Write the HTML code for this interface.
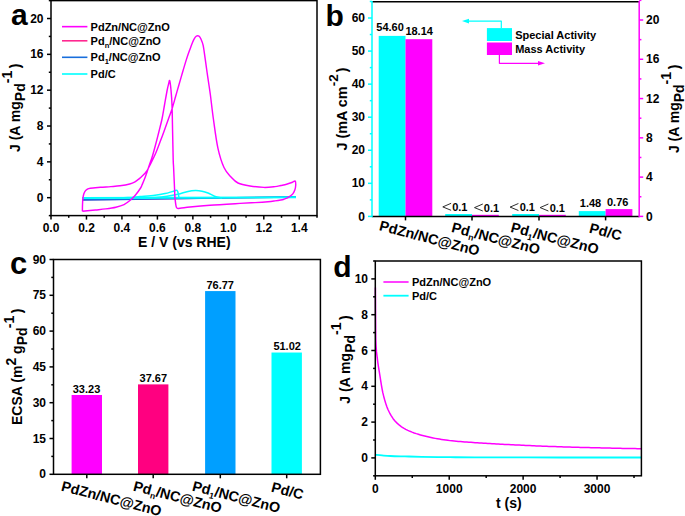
<!DOCTYPE html>
<html><head><meta charset="utf-8"><style>
html,body{margin:0;padding:0;background:#fff;overflow:hidden;}
svg{display:block;}
text{font-family:"Liberation Sans", sans-serif;font-weight:bold;}
</style></head><body>
<svg width="685" height="516" viewBox="0 0 685 516" style="font-family:'Liberation Sans', sans-serif;font-weight:bold">
<rect width="685" height="516" fill="#fff"/>
<path d="M82.00,199.80 L120.00,199.40 L235.00,197.80 L296.00,197.00" fill="none" stroke="#FF2890" stroke-width="1.4" stroke-linejoin="round" stroke-linecap="butt"/>
<path d="M82.00,199.90 L120.00,199.50 L235.00,197.80 L296.00,196.90" fill="none" stroke="#186EDC" stroke-width="1.6" stroke-linejoin="round" stroke-linecap="butt"/>
<path d="M82.00,197.90 L296.00,197.30" fill="none" stroke="#00FFFF" stroke-width="2.0" stroke-linejoin="round" stroke-linecap="butt"/>
<path d="M140.00,198.10 C142.50,197.98 150.50,197.72 155.00,197.40 C159.50,197.08 163.17,196.73 167.00,196.20 C170.83,195.67 174.50,195.00 178.00,194.20 C181.50,193.40 185.08,192.00 188.00,191.40 C190.92,190.80 193.17,190.63 195.50,190.60 C197.83,190.57 199.92,190.80 202.00,191.20 C204.08,191.60 205.92,192.17 208.00,193.00 C210.08,193.83 212.17,195.37 214.50,196.20 C216.83,197.03 220.75,197.70 222.00,198.00" fill="none" stroke="#00FFFF" stroke-width="1.5" stroke-linejoin="round" stroke-linecap="butt"/>
<path d="M115.00,198.10 C117.17,198.02 123.83,197.85 128.00,197.60 C132.17,197.35 135.50,196.98 140.00,196.60 C144.50,196.22 150.83,195.80 155.00,195.30 C159.17,194.80 162.17,194.22 165.00,193.60 C167.83,192.98 170.12,192.15 172.00,191.60 C173.88,191.05 175.37,190.35 176.30,190.30 C177.23,190.25 177.25,190.65 177.60,191.30 C177.95,191.95 178.17,193.08 178.40,194.20 C178.63,195.32 178.90,197.37 179.00,198.00" fill="none" stroke="#00FFFF" stroke-width="1.5" stroke-linejoin="round" stroke-linecap="butt"/>
<path d="M82.40,211.30 C82.42,210.25 82.42,207.13 82.50,205.00 C82.58,202.87 82.70,200.30 82.90,198.50 C83.10,196.70 83.35,195.40 83.70,194.20 C84.05,193.00 84.45,192.10 85.00,191.30 C85.55,190.50 86.12,189.92 87.00,189.40 C87.88,188.88 88.05,188.55 90.30,188.20 C92.55,187.85 97.08,187.57 100.50,187.30 C103.92,187.03 107.55,186.85 110.80,186.60 C114.05,186.35 116.85,186.23 120.00,185.80 C123.15,185.37 127.20,184.67 129.70,184.00 C132.20,183.33 133.38,182.70 135.00,181.80 C136.62,180.90 138.07,179.68 139.40,178.60 C140.73,177.52 141.98,176.30 143.00,175.30 C144.02,174.30 144.80,173.43 145.50,172.60 C146.20,171.77 146.23,171.98 147.20,170.30 C148.17,168.62 149.83,165.47 151.30,162.50 C152.77,159.53 154.52,155.98 156.00,152.50 C157.48,149.02 158.77,145.38 160.20,141.60 C161.63,137.82 163.22,133.60 164.60,129.80 C165.98,126.00 167.27,122.27 168.50,118.80 C169.73,115.33 170.82,112.72 172.00,109.00 C173.18,105.28 174.50,100.33 175.60,96.50 C176.70,92.67 177.45,90.00 178.60,86.00 C179.75,82.00 181.17,77.02 182.50,72.50 C183.83,67.98 185.37,62.75 186.60,58.90 C187.83,55.05 188.92,52.13 189.90,49.40 C190.88,46.67 191.73,44.33 192.50,42.50 C193.27,40.67 193.88,39.43 194.50,38.40 C195.12,37.37 195.68,36.75 196.20,36.30 C196.72,35.85 197.10,35.70 197.60,35.70 C198.10,35.70 198.67,35.80 199.20,36.30 C199.73,36.80 200.15,37.22 200.80,38.70 C201.45,40.18 202.37,41.83 203.10,45.20 C203.83,48.57 204.53,54.35 205.20,58.90 C205.87,63.45 206.45,67.98 207.10,72.50 C207.75,77.02 208.55,82.25 209.10,86.00 C209.65,89.75 209.68,89.50 210.40,95.00 C211.12,100.50 212.15,110.15 213.40,119.00 C214.65,127.85 216.13,140.02 217.90,148.10 C219.67,156.18 221.82,162.68 224.00,167.50 C226.18,172.32 228.67,174.42 231.00,177.00 C233.33,179.58 234.83,181.50 238.00,183.00 C241.17,184.50 245.67,185.27 250.00,186.00 C254.33,186.73 259.83,187.30 264.00,187.40 C268.17,187.50 272.20,186.92 275.00,186.60 C277.80,186.28 278.87,185.88 280.80,185.50 C282.73,185.12 284.67,184.83 286.60,184.30 C288.53,183.77 290.97,182.83 292.40,182.30 C293.83,181.77 294.65,180.57 295.20,181.10 C295.75,181.63 295.77,184.00 295.70,185.50 C295.63,187.00 295.25,188.75 294.80,190.10 C294.35,191.45 293.73,192.63 293.00,193.60 C292.27,194.57 291.32,195.18 290.40,195.90 C289.48,196.62 288.57,197.35 287.50,197.90 C286.43,198.45 285.12,198.85 284.00,199.20 C282.88,199.55 282.30,199.72 280.80,200.00 C279.30,200.28 277.13,200.62 275.00,200.90 C272.87,201.18 271.33,201.42 268.00,201.70 C264.67,201.98 259.67,202.32 255.00,202.60 C250.33,202.88 247.50,202.97 240.00,203.40 C232.50,203.83 218.33,204.60 210.00,205.20 C201.67,205.80 195.00,206.48 190.00,207.00 C185.00,207.52 182.25,208.22 180.00,208.30 C177.75,208.38 177.33,209.22 176.50,207.50 C175.67,205.78 175.32,200.92 175.00,198.00 C174.68,195.08 174.83,195.08 174.60,190.00 C174.37,184.92 173.83,172.50 173.60,167.50 C173.37,162.50 173.37,165.97 173.20,160.00 C173.03,154.03 172.80,140.87 172.60,131.70 C172.40,122.53 172.27,111.95 172.00,105.00 C171.73,98.05 171.38,94.07 171.00,90.00 C170.62,85.93 170.10,81.60 169.70,80.60 C169.30,79.60 169.02,82.43 168.60,84.00 C168.18,85.57 167.88,86.50 167.20,90.00 C166.52,93.50 165.37,100.17 164.50,105.00 C163.63,109.83 162.93,114.55 162.00,119.00 C161.07,123.45 159.98,127.37 158.90,131.70 C157.82,136.03 156.55,141.03 155.50,145.00 C154.45,148.97 153.45,152.67 152.60,155.50 C151.75,158.33 151.30,159.35 150.40,162.00 C149.50,164.65 148.13,168.68 147.20,171.40 C146.27,174.12 145.65,176.07 144.80,178.30 C143.95,180.53 142.80,183.18 142.10,184.80 C141.40,186.42 141.70,186.30 140.60,188.00 C139.50,189.70 137.23,192.95 135.50,195.00 C133.77,197.05 132.12,198.70 130.20,200.30 C128.28,201.90 126.38,203.45 124.00,204.60 C121.62,205.75 118.95,206.48 115.90,207.20 C112.85,207.92 109.12,208.43 105.70,208.90 C102.28,209.37 99.28,209.60 95.40,210.00 C91.52,210.40 84.57,211.08 82.40,211.30" fill="none" stroke="#FF00FF" stroke-width="1.45" stroke-linejoin="round" stroke-linecap="butt"/>
<rect x="51" y="0.6" width="266" height="215.0" fill="none" stroke="#000" stroke-width="1.5"/>
<line x1="51.00" y1="215.60" x2="51.00" y2="219.60" stroke="#000" stroke-width="1.5" />
<text x="51.00" y="232.10" font-size="12" text-anchor="middle" fill="#000" >0.0</text>
<line x1="86.47" y1="215.60" x2="86.47" y2="219.60" stroke="#000" stroke-width="1.5" />
<text x="86.47" y="232.10" font-size="12" text-anchor="middle" fill="#000" >0.2</text>
<line x1="121.93" y1="215.60" x2="121.93" y2="219.60" stroke="#000" stroke-width="1.5" />
<text x="121.93" y="232.10" font-size="12" text-anchor="middle" fill="#000" >0.4</text>
<line x1="157.40" y1="215.60" x2="157.40" y2="219.60" stroke="#000" stroke-width="1.5" />
<text x="157.40" y="232.10" font-size="12" text-anchor="middle" fill="#000" >0.6</text>
<line x1="192.87" y1="215.60" x2="192.87" y2="219.60" stroke="#000" stroke-width="1.5" />
<text x="192.87" y="232.10" font-size="12" text-anchor="middle" fill="#000" >0.8</text>
<line x1="228.33" y1="215.60" x2="228.33" y2="219.60" stroke="#000" stroke-width="1.5" />
<text x="228.33" y="232.10" font-size="12" text-anchor="middle" fill="#000" >1.0</text>
<line x1="263.80" y1="215.60" x2="263.80" y2="219.60" stroke="#000" stroke-width="1.5" />
<text x="263.80" y="232.10" font-size="12" text-anchor="middle" fill="#000" >1.2</text>
<line x1="299.27" y1="215.60" x2="299.27" y2="219.60" stroke="#000" stroke-width="1.5" />
<text x="299.27" y="232.10" font-size="12" text-anchor="middle" fill="#000" >1.4</text>
<line x1="68.73" y1="215.60" x2="68.73" y2="217.80" stroke="#000" stroke-width="1.5" />
<line x1="104.20" y1="215.60" x2="104.20" y2="217.80" stroke="#000" stroke-width="1.5" />
<line x1="139.67" y1="215.60" x2="139.67" y2="217.80" stroke="#000" stroke-width="1.5" />
<line x1="175.13" y1="215.60" x2="175.13" y2="217.80" stroke="#000" stroke-width="1.5" />
<line x1="210.60" y1="215.60" x2="210.60" y2="217.80" stroke="#000" stroke-width="1.5" />
<line x1="246.07" y1="215.60" x2="246.07" y2="217.80" stroke="#000" stroke-width="1.5" />
<line x1="281.53" y1="215.60" x2="281.53" y2="217.80" stroke="#000" stroke-width="1.5" />
<line x1="317.00" y1="215.60" x2="317.00" y2="217.80" stroke="#000" stroke-width="1.5" />
<line x1="47.00" y1="197.68" x2="51.00" y2="197.68" stroke="#000" stroke-width="1.5" />
<text x="43.50" y="201.78" font-size="12" text-anchor="end" fill="#000" >0</text>
<line x1="47.00" y1="161.85" x2="51.00" y2="161.85" stroke="#000" stroke-width="1.5" />
<text x="43.50" y="165.95" font-size="12" text-anchor="end" fill="#000" >4</text>
<line x1="47.00" y1="126.02" x2="51.00" y2="126.02" stroke="#000" stroke-width="1.5" />
<text x="43.50" y="130.12" font-size="12" text-anchor="end" fill="#000" >8</text>
<line x1="47.00" y1="90.18" x2="51.00" y2="90.18" stroke="#000" stroke-width="1.5" />
<text x="43.50" y="94.28" font-size="12" text-anchor="end" fill="#000" >12</text>
<line x1="47.00" y1="54.35" x2="51.00" y2="54.35" stroke="#000" stroke-width="1.5" />
<text x="43.50" y="58.45" font-size="12" text-anchor="end" fill="#000" >16</text>
<line x1="47.00" y1="18.52" x2="51.00" y2="18.52" stroke="#000" stroke-width="1.5" />
<text x="43.50" y="22.62" font-size="12" text-anchor="end" fill="#000" >20</text>
<line x1="48.80" y1="179.77" x2="51.00" y2="179.77" stroke="#000" stroke-width="1.5" />
<line x1="48.80" y1="143.93" x2="51.00" y2="143.93" stroke="#000" stroke-width="1.5" />
<line x1="48.80" y1="108.10" x2="51.00" y2="108.10" stroke="#000" stroke-width="1.5" />
<line x1="48.80" y1="72.27" x2="51.00" y2="72.27" stroke="#000" stroke-width="1.5" />
<line x1="48.80" y1="36.43" x2="51.00" y2="36.43" stroke="#000" stroke-width="1.5" />
<line x1="48.80" y1="0.60" x2="51.00" y2="0.60" stroke="#000" stroke-width="1.5" />
<line x1="48.80" y1="215.60" x2="51.00" y2="215.60" stroke="#000" stroke-width="1.5" />
<text x="138.00" y="246.80" font-size="14" text-anchor="start" fill="#000" >E / V (vs RHE)</text>
<text transform="translate(20,152) rotate(-90)" font-size="14">J (A mg<tspan dy="5" font-size="14">Pd</tspan><tspan dy="-13.5" font-size="14">-1</tspan><tspan dy="8.5" dx="2.6">)</tspan></text>
<line x1="62.00" y1="26.65" x2="87.40" y2="26.65" stroke="#FF00FF" stroke-width="1.6" />
<text x="90.60" y="30.65" font-size="11" text-anchor="start" fill="#000" >PdZn/NC@ZnO</text>
<line x1="62.00" y1="40.80" x2="87.40" y2="40.80" stroke="#FF2890" stroke-width="1.6" />
<text x="90.60" y="44.80" font-size="11" text-anchor="start" fill="#000" >Pd<tspan dy="2.8" font-size="7.5">n</tspan><tspan dy="-2.8">/NC@ZnO</tspan></text>
<line x1="62.00" y1="57.30" x2="87.40" y2="57.30" stroke="#186EDC" stroke-width="1.6" />
<text x="90.60" y="61.30" font-size="11" text-anchor="start" fill="#000" >Pd<tspan dy="2.5" font-size="7.5">1</tspan><tspan dy="-2.5">/NC@ZnO</tspan></text>
<line x1="62.00" y1="74.00" x2="87.40" y2="74.00" stroke="#00FFFF" stroke-width="1.6" />
<text x="90.60" y="78.00" font-size="11" text-anchor="start" fill="#000" >Pd/C</text>
<text x="11.00" y="24.80" font-size="30" text-anchor="start" fill="#000" >a</text>
<rect x="378.70" y="35.90" width="26.80" height="180.50" fill="#00FFFF"/>
<rect x="405.50" y="39.20" width="26.80" height="177.20" fill="#FF00FF"/>
<rect x="445.20" y="214.00" width="26.80" height="2.40" fill="#00FFFF"/>
<rect x="472.00" y="214.80" width="26.80" height="1.60" fill="#FF00FF"/>
<rect x="512.20" y="214.00" width="26.80" height="2.40" fill="#00FFFF"/>
<rect x="539.00" y="214.80" width="26.80" height="1.60" fill="#FF00FF"/>
<rect x="578.80" y="211.10" width="26.80" height="5.30" fill="#00FFFF"/>
<rect x="605.60" y="209.10" width="26.80" height="7.30" fill="#FF00FF"/>
<line x1="372.00" y1="1.70" x2="639.20" y2="1.70" stroke="#000" stroke-width="1.5" />
<line x1="372.00" y1="216.40" x2="639.20" y2="216.40" stroke="#000" stroke-width="1.5" />
<line x1="372.00" y1="1.00" x2="372.00" y2="217.15" stroke="#00FFFF" stroke-width="1.5" />
<line x1="639.20" y1="1.00" x2="639.20" y2="217.15" stroke="#FF00FF" stroke-width="1.5" />
<line x1="368.00" y1="216.40" x2="372.00" y2="216.40" stroke="#00FFFF" stroke-width="1.5" />
<text x="365.00" y="220.50" font-size="12" text-anchor="end" fill="#000" >0</text>
<line x1="368.00" y1="183.33" x2="372.00" y2="183.33" stroke="#00FFFF" stroke-width="1.5" />
<text x="365.00" y="187.43" font-size="12" text-anchor="end" fill="#000" >10</text>
<line x1="368.00" y1="150.27" x2="372.00" y2="150.27" stroke="#00FFFF" stroke-width="1.5" />
<text x="365.00" y="154.37" font-size="12" text-anchor="end" fill="#000" >20</text>
<line x1="368.00" y1="117.20" x2="372.00" y2="117.20" stroke="#00FFFF" stroke-width="1.5" />
<text x="365.00" y="121.30" font-size="12" text-anchor="end" fill="#000" >30</text>
<line x1="368.00" y1="84.13" x2="372.00" y2="84.13" stroke="#00FFFF" stroke-width="1.5" />
<text x="365.00" y="88.23" font-size="12" text-anchor="end" fill="#000" >40</text>
<line x1="368.00" y1="51.07" x2="372.00" y2="51.07" stroke="#00FFFF" stroke-width="1.5" />
<text x="365.00" y="55.17" font-size="12" text-anchor="end" fill="#000" >50</text>
<line x1="368.00" y1="18.00" x2="372.00" y2="18.00" stroke="#00FFFF" stroke-width="1.5" />
<text x="365.00" y="22.10" font-size="12" text-anchor="end" fill="#000" >60</text>
<line x1="369.80" y1="199.87" x2="372.00" y2="199.87" stroke="#00FFFF" stroke-width="1.5" />
<line x1="369.80" y1="166.80" x2="372.00" y2="166.80" stroke="#00FFFF" stroke-width="1.5" />
<line x1="369.80" y1="133.73" x2="372.00" y2="133.73" stroke="#00FFFF" stroke-width="1.5" />
<line x1="369.80" y1="100.67" x2="372.00" y2="100.67" stroke="#00FFFF" stroke-width="1.5" />
<line x1="369.80" y1="67.60" x2="372.00" y2="67.60" stroke="#00FFFF" stroke-width="1.5" />
<line x1="369.80" y1="34.53" x2="372.00" y2="34.53" stroke="#00FFFF" stroke-width="1.5" />
<line x1="369.80" y1="1.47" x2="372.00" y2="1.47" stroke="#00FFFF" stroke-width="1.5" />
<line x1="639.20" y1="216.40" x2="643.20" y2="216.40" stroke="#FF00FF" stroke-width="1.5" />
<text x="646.00" y="220.50" font-size="12" text-anchor="start" fill="#000" >0</text>
<line x1="639.20" y1="177.12" x2="643.20" y2="177.12" stroke="#FF00FF" stroke-width="1.5" />
<text x="646.00" y="181.22" font-size="12" text-anchor="start" fill="#000" >4</text>
<line x1="639.20" y1="137.84" x2="643.20" y2="137.84" stroke="#FF00FF" stroke-width="1.5" />
<text x="646.00" y="141.94" font-size="12" text-anchor="start" fill="#000" >8</text>
<line x1="639.20" y1="98.56" x2="643.20" y2="98.56" stroke="#FF00FF" stroke-width="1.5" />
<text x="646.00" y="102.66" font-size="12" text-anchor="start" fill="#000" >12</text>
<line x1="639.20" y1="59.28" x2="643.20" y2="59.28" stroke="#FF00FF" stroke-width="1.5" />
<text x="646.00" y="63.38" font-size="12" text-anchor="start" fill="#000" >16</text>
<line x1="639.20" y1="20.00" x2="643.20" y2="20.00" stroke="#FF00FF" stroke-width="1.5" />
<text x="646.00" y="24.10" font-size="12" text-anchor="start" fill="#000" >20</text>
<line x1="639.20" y1="196.76" x2="641.40" y2="196.76" stroke="#FF00FF" stroke-width="1.5" />
<line x1="639.20" y1="157.48" x2="641.40" y2="157.48" stroke="#FF00FF" stroke-width="1.5" />
<line x1="639.20" y1="118.20" x2="641.40" y2="118.20" stroke="#FF00FF" stroke-width="1.5" />
<line x1="639.20" y1="78.92" x2="641.40" y2="78.92" stroke="#FF00FF" stroke-width="1.5" />
<line x1="639.20" y1="39.64" x2="641.40" y2="39.64" stroke="#FF00FF" stroke-width="1.5" />
<line x1="639.20" y1="0.36" x2="641.40" y2="0.36" stroke="#FF00FF" stroke-width="1.5" />
<line x1="405.50" y1="216.40" x2="405.50" y2="220.40" stroke="#000" stroke-width="1.5" />
<line x1="472.00" y1="216.40" x2="472.00" y2="220.40" stroke="#000" stroke-width="1.5" />
<line x1="539.00" y1="216.40" x2="539.00" y2="220.40" stroke="#000" stroke-width="1.5" />
<line x1="605.60" y1="216.40" x2="605.60" y2="220.40" stroke="#000" stroke-width="1.5" />
<text x="390.10" y="31.00" font-size="11" text-anchor="middle" fill="#000" >54.60</text>
<text x="419.15" y="34.60" font-size="11" text-anchor="middle" fill="#000" >18.14</text>
<text x="590.55" y="207.10" font-size="11" text-anchor="middle" fill="#000" >1.48</text>
<text x="617.70" y="206.30" font-size="11" text-anchor="middle" fill="#000" >0.76</text>
<text x="459.80" y="211.00" font-size="11" text-anchor="middle" fill="#000" >0.1</text>
<text x="491.50" y="211.80" font-size="11" text-anchor="middle" fill="#000" >0.1</text>
<text x="527.35" y="211.00" font-size="11" text-anchor="middle" fill="#000" >0.1</text>
<text x="557.35" y="211.80" font-size="11" text-anchor="middle" fill="#000" >0.1</text>
<path d="M451.10,203.30 L442.80,206.90 L451.10,210.30" fill="none" stroke="#222" stroke-width="0.95"/>
<path d="M482.80,204.00 L474.50,207.60 L482.80,211.00" fill="none" stroke="#222" stroke-width="0.95"/>
<path d="M518.40,203.50 L510.10,207.10 L518.40,210.50" fill="none" stroke="#222" stroke-width="0.95"/>
<path d="M548.40,204.00 L540.10,207.60 L548.40,211.00" fill="none" stroke="#222" stroke-width="0.95"/>
<text x="325.60" y="25.60" font-size="30" text-anchor="start" fill="#000" >b</text>
<rect x="486.90" y="28.10" width="25.10" height="12.90" fill="#00FFFF"/>
<rect x="486.90" y="42.50" width="25.10" height="12.50" fill="#FF00FF"/>
<text x="515.20" y="38.70" font-size="11" text-anchor="start" fill="#000" >Special Activity</text>
<text x="515.20" y="52.70" font-size="11" text-anchor="start" fill="#000" >Mass Activity</text>
<path d="M501.30,28.10 L501.30,21.10 L468.00,21.10" fill="none" stroke="#00FFFF" stroke-width="1.2" stroke-linejoin="round" stroke-linecap="butt"/>
<path d="M462,21.1 L469,18.8 L469,23.4 Z" fill="#00FFFF"/>
<path d="M499.40,55.00 L499.40,63.30 L539.00,63.30" fill="none" stroke="#FF00FF" stroke-width="1.2" stroke-linejoin="round" stroke-linecap="butt"/>
<path d="M545,63.3 L538,61 L538,65.6 Z" fill="#FF00FF"/>
<text transform="translate(346.6,150.6) rotate(-90)" font-size="14.4">J (mA cm<tspan dy="-8.4" font-size="13.5">-2</tspan><tspan dy="8.4" dx="2.2">)</tspan></text>
<text transform="translate(679.2,153.1) rotate(-90)" font-size="14">J (A mg<tspan dy="5" font-size="14">Pd</tspan><tspan dy="-13.5" font-size="14">-1</tspan><tspan dy="8.5" dx="2.6">)</tspan></text>
<text transform="translate(378.50,230.10) rotate(14.5)" font-size="14.3">PdZn/NC@ZnO</text>
<text transform="translate(450.80,231.80) rotate(14.5)" font-size="14.3">Pd<tspan dy="3.2" font-size="8.5">n</tspan><tspan dy="-3.2">/NC@ZnO</tspan></text>
<text transform="translate(509.90,231.70) rotate(14.5)" font-size="14.3">Pd<tspan dy="3.2" font-size="8.5">1</tspan><tspan dy="-3.2">/NC@ZnO</tspan></text>
<text transform="translate(588.60,232.40) rotate(14.5)" font-size="14.3">Pd/C</text>
<rect x="71.60" y="394.99" width="30.40" height="79.31" fill="#FF00FF"/>
<text x="86.50" y="392.50" font-size="11" text-anchor="middle" fill="#000" >33.23</text>
<rect x="138.00" y="384.39" width="30.40" height="89.91" fill="#FF0080"/>
<text x="153.35" y="382.00" font-size="11" text-anchor="middle" fill="#000" >37.67</text>
<rect x="205.10" y="291.08" width="30.40" height="183.22" fill="#009FFF"/>
<text x="220.20" y="289.10" font-size="11" text-anchor="middle" fill="#000" >76.77</text>
<rect x="271.50" y="352.53" width="30.40" height="121.77" fill="#00FFFF"/>
<text x="287.15" y="350.00" font-size="11" text-anchor="middle" fill="#000" >51.02</text>
<rect x="53.5" y="259.5" width="266.9" height="214.8" fill="none" stroke="#000" stroke-width="1.5"/>
<line x1="49.50" y1="474.30" x2="53.50" y2="474.30" stroke="#000" stroke-width="1.5" />
<text x="46.00" y="478.40" font-size="12" text-anchor="end" fill="#000" >0</text>
<line x1="49.50" y1="438.50" x2="53.50" y2="438.50" stroke="#000" stroke-width="1.5" />
<text x="46.00" y="442.60" font-size="12" text-anchor="end" fill="#000" >15</text>
<line x1="49.50" y1="402.70" x2="53.50" y2="402.70" stroke="#000" stroke-width="1.5" />
<text x="46.00" y="406.80" font-size="12" text-anchor="end" fill="#000" >30</text>
<line x1="49.50" y1="366.90" x2="53.50" y2="366.90" stroke="#000" stroke-width="1.5" />
<text x="46.00" y="371.00" font-size="12" text-anchor="end" fill="#000" >45</text>
<line x1="49.50" y1="331.10" x2="53.50" y2="331.10" stroke="#000" stroke-width="1.5" />
<text x="46.00" y="335.20" font-size="12" text-anchor="end" fill="#000" >60</text>
<line x1="49.50" y1="295.30" x2="53.50" y2="295.30" stroke="#000" stroke-width="1.5" />
<text x="46.00" y="299.40" font-size="12" text-anchor="end" fill="#000" >75</text>
<line x1="49.50" y1="259.50" x2="53.50" y2="259.50" stroke="#000" stroke-width="1.5" />
<text x="46.00" y="263.60" font-size="12" text-anchor="end" fill="#000" >90</text>
<line x1="51.30" y1="456.40" x2="53.50" y2="456.40" stroke="#000" stroke-width="1.5" />
<line x1="51.30" y1="420.60" x2="53.50" y2="420.60" stroke="#000" stroke-width="1.5" />
<line x1="51.30" y1="384.80" x2="53.50" y2="384.80" stroke="#000" stroke-width="1.5" />
<line x1="51.30" y1="349.00" x2="53.50" y2="349.00" stroke="#000" stroke-width="1.5" />
<line x1="51.30" y1="313.20" x2="53.50" y2="313.20" stroke="#000" stroke-width="1.5" />
<line x1="51.30" y1="277.40" x2="53.50" y2="277.40" stroke="#000" stroke-width="1.5" />
<line x1="86.80" y1="474.30" x2="86.80" y2="478.30" stroke="#000" stroke-width="1.5" />
<line x1="153.20" y1="474.30" x2="153.20" y2="478.30" stroke="#000" stroke-width="1.5" />
<line x1="220.30" y1="474.30" x2="220.30" y2="478.30" stroke="#000" stroke-width="1.5" />
<line x1="286.70" y1="474.30" x2="286.70" y2="478.30" stroke="#000" stroke-width="1.5" />
<text transform="translate(60.50,490.50) rotate(14.5)" font-size="14.3">PdZn/NC@ZnO</text>
<text transform="translate(132.50,490.40) rotate(14.5)" font-size="14.3">Pd<tspan dy="3.2" font-size="8.5">n</tspan><tspan dy="-3.2">/NC@ZnO</tspan></text>
<text transform="translate(191.50,490.40) rotate(14.5)" font-size="14.3">Pd<tspan dy="3.2" font-size="8.5">1</tspan><tspan dy="-3.2">/NC@ZnO</tspan></text>
<text transform="translate(270.50,491.50) rotate(14.5)" font-size="14.3">Pd/C</text>
<text x="10.00" y="273.90" font-size="31" text-anchor="start" fill="#000" >c</text>
<text transform="translate(22,425) rotate(-90)" font-size="14">ECSA (m<tspan dy="-6.5" font-size="14">2</tspan><tspan dy="6.5"> g</tspan><tspan dy="5.3" font-size="14">Pd</tspan><tspan dy="-13.7" dx="-0.8" font-size="14">-1</tspan><tspan dy="8.4" dx="2.6">)</tspan></text>
<path d="M375.40,287.50 L375.44,294.46 L375.49,301.65 L375.53,308.87 L375.57,315.86 L375.61,322.41 L375.66,328.28 L375.70,333.24 L375.74,337.07 L375.79,339.53 L375.83,340.75 L375.87,341.82 L375.91,342.84 L375.96,343.79 L376.00,344.68 L376.10,346.57 L376.46,351.38 L376.81,354.40 L377.17,357.13 L377.53,360.18 L377.88,362.90 L378.24,365.37 L378.59,367.66 L378.95,369.82 L379.31,371.93 L379.66,374.05 L380.02,376.26 L380.38,378.52 L380.73,380.81 L381.09,383.07 L381.45,385.28 L381.80,387.41 L382.16,389.40 L382.52,391.24 L382.87,392.88 L383.23,394.37 L383.58,395.81 L383.94,397.20 L384.30,398.54 L384.65,399.83 L385.01,401.07 L385.37,402.26 L385.72,403.40 L386.08,404.49 L386.44,405.53 L386.79,406.53 L387.15,407.47 L387.51,408.37 L387.86,409.22 L388.22,410.02 L388.57,410.78 L388.93,411.52 L389.29,412.24 L389.64,412.94 L390.00,413.62 L391.00,415.42 L393.11,418.69 L395.21,421.29 L397.32,423.38 L399.42,425.21 L401.53,426.80 L403.63,428.17 L405.74,429.36 L407.84,430.39 L409.95,431.32 L412.05,432.17 L414.16,432.94 L416.26,433.64 L418.37,434.29 L420.47,434.91 L422.58,435.50 L424.68,436.05 L426.79,436.58 L428.89,437.07 L431.00,437.54 L433.10,437.97 L435.21,438.38 L437.31,438.75 L439.42,439.11 L441.52,439.45 L443.63,439.78 L445.73,440.08 L447.84,440.36 L449.94,440.62 L452.05,440.85 L454.15,441.06 L456.26,441.24 L458.36,441.41 L460.47,441.57 L462.57,441.72 L464.68,441.88 L466.78,442.03 L468.89,442.19 L470.99,442.34 L473.10,442.50 L475.20,442.65 L477.31,442.80 L479.41,442.94 L481.52,443.09 L483.62,443.23 L485.73,443.36 L487.83,443.49 L489.94,443.62 L492.04,443.74 L494.15,443.86 L496.25,443.97 L498.36,444.08 L500.46,444.19 L502.57,444.29 L504.67,444.39 L506.78,444.49 L508.88,444.59 L510.99,444.69 L513.09,444.79 L515.20,444.89 L517.30,444.99 L519.41,445.09 L521.51,445.19 L523.62,445.29 L525.72,445.39 L527.83,445.49 L529.93,445.59 L532.04,445.68 L534.14,445.78 L536.25,445.88 L538.35,445.97 L540.46,446.06 L542.56,446.14 L544.67,446.23 L546.77,446.31 L548.88,446.39 L550.98,446.46 L553.09,446.54 L555.19,446.61 L557.30,446.68 L559.40,446.76 L561.51,446.83 L563.61,446.89 L565.72,446.96 L567.82,447.02 L569.93,447.09 L572.03,447.15 L574.14,447.21 L576.24,447.27 L578.35,447.33 L580.45,447.39 L582.56,447.44 L584.66,447.50 L586.77,447.55 L588.87,447.61 L590.98,447.66 L593.08,447.71 L595.19,447.77 L597.29,447.82 L599.40,447.87 L601.50,447.92 L603.61,447.97 L605.71,448.02 L607.82,448.07 L609.92,448.12 L612.03,448.17 L614.13,448.22 L616.24,448.27 L618.34,448.31 L620.45,448.35 L622.55,448.39 L624.66,448.43 L626.76,448.47 L628.87,448.51 L630.97,448.54 L633.08,448.58 L635.18,448.61 L637.29,448.64 L639.39,448.67 L641.50,448.70" fill="none" stroke="#FF00FF" stroke-width="1.5" stroke-linejoin="round" stroke-linecap="butt"/>
<path d="M375.50,454.80 C376.58,454.90 379.50,455.20 382.00,455.40 C384.50,455.60 386.67,455.83 390.50,456.00 C394.33,456.17 399.83,456.27 405.00,456.40 C410.17,456.53 414.00,456.67 421.50,456.80 C429.00,456.93 441.08,457.10 450.00,457.20 C458.92,457.30 456.67,457.35 475.00,457.40 C493.33,457.45 532.25,457.48 560.00,457.50 C587.75,457.52 627.92,457.50 641.50,457.50" fill="none" stroke="#00FFFF" stroke-width="1.8" stroke-linejoin="round" stroke-linecap="butt"/>
<rect x="375.3" y="261" width="266.09999999999997" height="214.8" fill="none" stroke="#000" stroke-width="1.5"/>
<line x1="375.30" y1="475.80" x2="375.30" y2="479.80" stroke="#000" stroke-width="1.5" />
<text x="375.30" y="492.60" font-size="12" text-anchor="middle" fill="#000" >0</text>
<line x1="449.22" y1="475.80" x2="449.22" y2="479.80" stroke="#000" stroke-width="1.5" />
<text x="449.22" y="492.60" font-size="12" text-anchor="middle" fill="#000" >1000</text>
<line x1="523.13" y1="475.80" x2="523.13" y2="479.80" stroke="#000" stroke-width="1.5" />
<text x="523.13" y="492.60" font-size="12" text-anchor="middle" fill="#000" >2000</text>
<line x1="597.05" y1="475.80" x2="597.05" y2="479.80" stroke="#000" stroke-width="1.5" />
<text x="597.05" y="492.60" font-size="12" text-anchor="middle" fill="#000" >3000</text>
<line x1="412.26" y1="475.80" x2="412.26" y2="478.00" stroke="#000" stroke-width="1.5" />
<line x1="486.18" y1="475.80" x2="486.18" y2="478.00" stroke="#000" stroke-width="1.5" />
<line x1="560.09" y1="475.80" x2="560.09" y2="478.00" stroke="#000" stroke-width="1.5" />
<line x1="634.01" y1="475.80" x2="634.01" y2="478.00" stroke="#000" stroke-width="1.5" />
<line x1="371.30" y1="457.90" x2="375.30" y2="457.90" stroke="#000" stroke-width="1.5" />
<text x="368.00" y="462.00" font-size="12" text-anchor="end" fill="#000" >0</text>
<line x1="371.30" y1="422.10" x2="375.30" y2="422.10" stroke="#000" stroke-width="1.5" />
<text x="368.00" y="426.20" font-size="12" text-anchor="end" fill="#000" >2</text>
<line x1="371.30" y1="386.30" x2="375.30" y2="386.30" stroke="#000" stroke-width="1.5" />
<text x="368.00" y="390.40" font-size="12" text-anchor="end" fill="#000" >4</text>
<line x1="371.30" y1="350.50" x2="375.30" y2="350.50" stroke="#000" stroke-width="1.5" />
<text x="368.00" y="354.60" font-size="12" text-anchor="end" fill="#000" >6</text>
<line x1="371.30" y1="314.70" x2="375.30" y2="314.70" stroke="#000" stroke-width="1.5" />
<text x="368.00" y="318.80" font-size="12" text-anchor="end" fill="#000" >8</text>
<line x1="371.30" y1="278.90" x2="375.30" y2="278.90" stroke="#000" stroke-width="1.5" />
<text x="368.00" y="283.00" font-size="12" text-anchor="end" fill="#000" >10</text>
<line x1="373.10" y1="475.80" x2="375.30" y2="475.80" stroke="#000" stroke-width="1.5" />
<line x1="373.10" y1="440.00" x2="375.30" y2="440.00" stroke="#000" stroke-width="1.5" />
<line x1="373.10" y1="404.20" x2="375.30" y2="404.20" stroke="#000" stroke-width="1.5" />
<line x1="373.10" y1="368.40" x2="375.30" y2="368.40" stroke="#000" stroke-width="1.5" />
<line x1="373.10" y1="332.60" x2="375.30" y2="332.60" stroke="#000" stroke-width="1.5" />
<line x1="373.10" y1="296.80" x2="375.30" y2="296.80" stroke="#000" stroke-width="1.5" />
<line x1="373.10" y1="261.00" x2="375.30" y2="261.00" stroke="#000" stroke-width="1.5" />
<text x="496.00" y="507.60" font-size="14" text-anchor="start" fill="#000" >t (s)</text>
<text transform="translate(349.7,403.7) rotate(-90)" font-size="14">J (A mg<tspan dy="5" font-size="14">Pd</tspan><tspan dy="-13.5" font-size="14">-1</tspan><tspan dy="8.5" dx="2.6">)</tspan></text>
<line x1="383.40" y1="282.00" x2="408.60" y2="282.00" stroke="#FF00FF" stroke-width="1.5" />
<text x="412.00" y="285.80" font-size="11" text-anchor="start" fill="#000" >PdZn/NC@ZnO</text>
<line x1="383.40" y1="295.70" x2="408.60" y2="295.70" stroke="#00FFFF" stroke-width="1.8" />
<text x="412.00" y="300.20" font-size="11" text-anchor="start" fill="#000" >Pd/C</text>
<text x="333.30" y="277.40" font-size="30" text-anchor="start" fill="#000" >d</text>
</svg></body></html>
